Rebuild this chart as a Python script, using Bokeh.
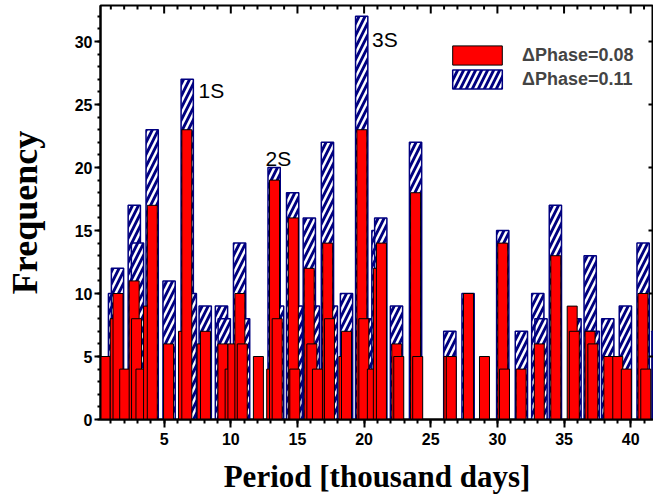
from bokeh.plotting import figure
from bokeh.models import Range1d, SingleIntervalTicker, Legend, LegendItem
from bokeh.core.properties import value
from bokeh.embed import file_html
from bokeh.resources import INLINE

# Period bins (thousand days) and frequencies, dPhase = 0.08 (red)
red_x = [0.58, 1.33, 1.54, 2.04, 2.75, 2.93, 3.26, 3.83, 4.11, 5.33, 6.45, 6.70,
         7.85, 8.10, 9.41, 9.95, 10.16, 10.68, 10.86, 12.07, 13.07, 13.28, 13.48,
         14.69, 14.80, 15.88, 16.08, 16.50, 17.27, 17.40, 18.48, 18.68, 19.83, 19.98,
         20.62, 21.07, 21.30, 22.45, 22.60, 23.86, 24.02, 26.36, 26.54, 27.83, 29.03,
         30.40, 30.53, 31.78, 33.14, 34.38, 35.61, 35.77, 36.95, 37.16, 38.36, 39.03,
         39.67, 40.92, 41.13]
red_h = [5, 8, 10, 4, 11, 8, 4, 9, 17, 6, 7, 23,
         6, 7, 6, 4, 6, 10, 6, 5, 4, 19, 8,
         16, 4, 12, 6, 4, 14, 8, 5, 7, 23, 8,
         4, 12, 14, 6, 5, 18, 5, 5, 5, 10, 5,
         14, 4, 4, 6, 13, 9, 7, 7, 6, 5, 5,
         4, 10, 4]

# dPhase = 0.11 (blue, hatched)
blue_x = [1.28, 1.50, 2.76, 3.00, 4.10, 5.37, 6.73, 6.96, 8.08, 9.30, 9.51, 10.66,
          10.96, 13.25, 13.51, 14.64, 14.91, 15.89, 16.19, 17.25, 17.54, 18.68, 19.82,
          20.17, 21.04, 21.25, 22.43, 23.86, 26.43, 27.80, 30.40, 31.80, 33.03, 33.27,
          34.35, 35.82, 36.96, 37.19, 38.28, 39.60, 40.93, 42.06]
blue_h = [10, 12, 17, 14, 23, 11, 27, 10, 9, 9, 8, 14,
          8, 20, 9, 18, 9, 16, 9, 22, 9, 10, 32,
          8, 15, 16, 9, 22, 7, 10, 15, 7, 10, 8,
          17, 8, 13, 7, 8, 9, 14, 7]

peak_labels = ["1S", "2S", "3S"]
peak_x = [7.58, 12.6, 20.6]
peak_y = [26.1, 20.7, 30.2]

X0, X1 = 0.225, 41.71
Y0, Y1 = 0.0, 32.86

p = figure(width=653, height=497, x_range=Range1d(X0, X1), y_range=Range1d(Y0, Y1),
           output_backend="svg", toolbar_location=None,
           min_border_left=100, min_border_right=0, min_border_top=5, min_border_bottom=78)
p.xgrid.visible = False
p.ygrid.visible = False
p.outline_line_color = "black"
p.outline_line_width = 2
p.background_fill_color = "white"
p.border_fill_color = "white"

blue = p.vbar(x=blue_x, top=blue_h, width=0.92, bottom=0,
              fill_color="#000080", line_color="#000080", line_width=1.5,
              hatch_pattern="/", hatch_color="white", hatch_scale=12, hatch_weight=2.5)
red = p.vbar(x=red_x, top=red_h, width=0.75, bottom=0,
             fill_color="#ff0000", line_color="black", line_width=1)

p.text(x=peak_x, y=peak_y, text=peak_labels, text_font=value("Liberation Sans"),
       text_font_size="21px", text_align="left", text_baseline="alphabetic", text_color="black")

# inward ticks on the top and right frame edges (half of each dash is clipped by the frame)
top_major = [v for v in range(5, 45, 5) if X0 < v < X1]
top_minor = [v for v in range(1, 42) if v % 5 and X0 < v < X1]
right_major = [v for v in range(5, 35, 5) if Y0 < v < Y1]
p.scatter(x=top_major, y=[Y1] * len(top_major), marker="dash", angle=1.5708, size=16,
          line_color="black", line_width=2)
p.scatter(x=top_minor, y=[Y1] * len(top_minor), marker="dash", angle=1.5708, size=8,
          line_color="black", line_width=2)
p.scatter(x=[X1] * len(right_major), y=right_major, marker="dash", size=10,
          line_color="black", line_width=2)

def style_axis(ax):
    ax.axis_line_width = 2
    ax.axis_line_color = "black"
    ax.major_tick_line_width = 2
    ax.minor_tick_line_width = 2
    ax.major_tick_line_color = "black"
    ax.minor_tick_line_color = "black"
    ax.major_label_text_font = "Liberation Sans"
    ax.major_label_text_font_style = "bold"
    ax.major_label_text_font_size = "16px"
    ax.major_label_text_color = "black"
    ax.axis_label_text_font = "Liberation Serif"
    ax.axis_label_text_font_style = "bold"
    ax.axis_label_text_color = "black"

xa = p.xaxis[0]
xa.ticker = SingleIntervalTicker(interval=5, num_minor_ticks=5)
style_axis(xa)
xa.major_tick_in = 0
xa.major_tick_out = 8
xa.minor_tick_in = 0
xa.minor_tick_out = 4
xa.major_label_standoff = 5
xa.axis_label = "Period [thousand days]"
xa.axis_label_text_font_size = "31px"
xa.axis_label_standoff = 11

ya = p.yaxis[0]
ya.ticker = SingleIntervalTicker(interval=5, num_minor_ticks=5)
style_axis(ya)
ya.major_tick_in = 0
ya.major_tick_out = 6
ya.minor_tick_in = 0
ya.minor_tick_out = 3
ya.major_label_standoff = 2
ya.axis_label = "Frequency"
ya.axis_label_text_font_size = "36px"
ya.axis_label_standoff = 27

legend = Legend(items=[LegendItem(label="ΔPhase=0.08", renderers=[red]),
                       LegendItem(label="ΔPhase=0.11", renderers=[blue])],
                location=(346, 328), glyph_width=62, glyph_height=24, label_standoff=14,
                spacing=0, padding=0, margin=0, border_line_color=None,
                background_fill_alpha=0, label_text_font="Liberation Sans",
                label_text_font_style="bold", label_text_font_size="18px",
                label_height=24)
p.add_layout(legend)

open("out.html", "w").write(file_html(p, INLINE))
